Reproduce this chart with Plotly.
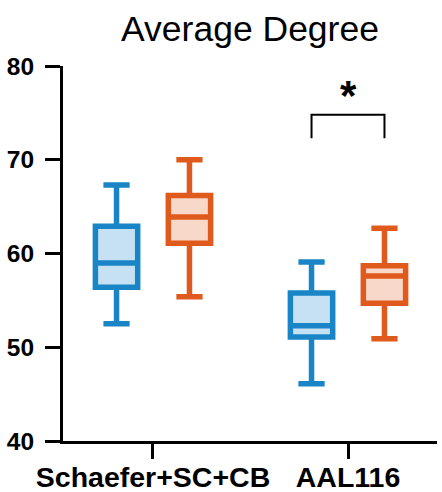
import plotly.graph_objects as go

categories = ["Schaefer+SC+CB", "AAL116"]

# Group A (blue)
a_low = [52.5, 46.1]
a_q1 = [56.4, 51.1]
a_med = [59.0, 52.3]
a_q3 = [62.9, 55.8]
a_high = [67.3, 59.1]

# Group B (orange)
b_low = [55.4, 50.9]
b_q1 = [61.1, 54.7]
b_med = [63.9, 57.6]
b_q3 = [66.2, 58.7]
b_high = [70.0, 62.7]

y_ticks = [40, 50, 60, 70, 80]
sig_label = "*"
sig_y_low = 72.3
sig_y_high = 74.8

BOXGAP = 0.252
BOXGROUPGAP = 0.42

fig = go.Figure()
fig.add_trace(go.Box(
    x=categories, q1=a_q1, median=a_med, q3=a_q3,
    lowerfence=a_low, upperfence=a_high,
    line=dict(color="#1985c6", width=5.5),
    fillcolor="#c6e1f3", whiskerwidth=0.62,
    boxpoints=False, showlegend=False, name="A",
))
fig.add_trace(go.Box(
    x=categories, q1=b_q1, median=b_med, q3=b_q3,
    lowerfence=b_low, upperfence=b_high,
    line=dict(color="#e05a1e", width=5.5),
    fillcolor="#f8d8c9", whiskerwidth=0.62,
    boxpoints=False, showlegend=False, name="B",
))

# significance bracket over second category
off = 0.25 * (1 - BOXGAP)
cx = 1
fig.add_shape(type="path",
              path=f"M {cx-off},{sig_y_low} L {cx-off},{sig_y_high} L {cx+off},{sig_y_high} L {cx+off},{sig_y_low}",
              xref="x", yref="y", line=dict(color="black", width=2))
fig.add_annotation(x=cx, y=sig_y_high, xref="x", yref="y", text=sig_label,
                   showarrow=False, yanchor="bottom", yshift=-6,
                   font=dict(family="Liberation Sans", size=42, color="black", weight="bold"))

fig.update_layout(
    width=442, height=492,
    margin=dict(l=63, r=5, t=66, b=51),
    paper_bgcolor="white", plot_bgcolor="white",
    boxmode="group", boxgap=BOXGAP, boxgroupgap=BOXGROUPGAP,
    title=dict(text="Average Degree", x=(63 + 437) / 2 / 442, xanchor="center",
               y=1 - 29 / 492, yanchor="middle", yref="container",
               font=dict(family="Liberation Sans", size=35.5, color="black")),
)
fig.update_xaxes(
    range=[-0.4615, 1.4564], showline=True, linecolor="black", linewidth=3,
    ticks="outside", ticklen=15, tickwidth=3, tickcolor="black",
    showgrid=False, zeroline=False, automargin=False, ticklabelstandoff=-6,
    tickfont=dict(family="Liberation Sans", size=28.5, color="black", weight="bold"),
)
fig.update_yaxes(
    range=[40, 80], tickvals=y_ticks, showline=True, linecolor="black", linewidth=3,
    ticks="outside", ticklen=15, tickwidth=3, tickcolor="black",
    showgrid=False, zeroline=False, ticklabelstandoff=6, automargin=False,
    tickfont=dict(family="Liberation Sans", size=24.5, color="black", weight="bold"),
)

fig.write_html("out.html")
